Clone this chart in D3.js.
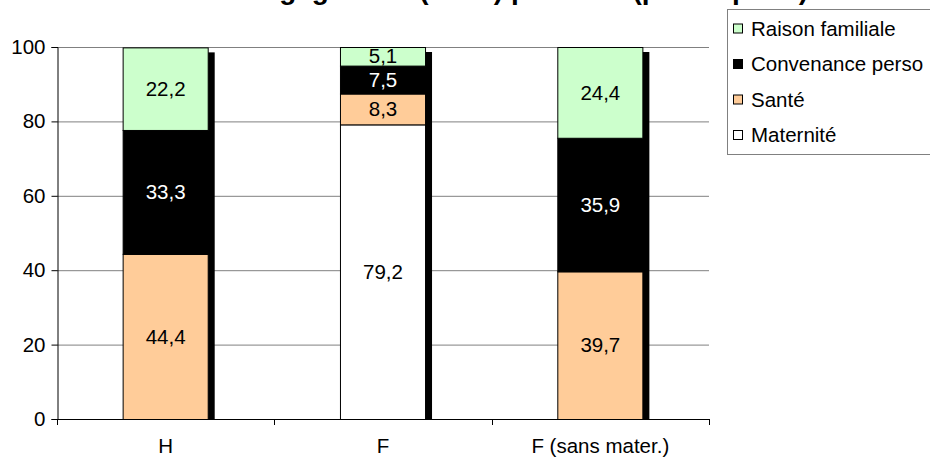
<!DOCTYPE html>
<html>
<head>
<meta charset="utf-8">
<script src="https://cdn.jsdelivr.net/npm/d3@7"></script>
<style>
  html, body { margin: 0; padding: 0; background: #fff; }
  svg { display: block; font-family: "Liberation Sans", Arial, sans-serif; }
</style>
</head>
<body>
<svg id="chart" width="930" height="457"></svg>
<script>
// Categories along the x axis
const categories = ["H", "F", "F (sans mater.)"];

// Stacked series, bottom to top
const seriesNames = ["Maternité", "Santé", "Convenance perso", "Raison familiale"];
const maternite = [0, 79.2, 0];
const sante = [44.4, 8.3, 39.7];
const convenance = [33.3, 7.5, 35.9];
const raisonFamiliale = [22.2, 5.1, 24.4];

const yTicks = [0, 20, 40, 60, 80, 100];
const titleText = "Motifs de dégagement (en %) par sexe (public/privé)";

const colors = {
  "Maternité": "#ffffff",
  "Santé": "#ffcc99",
  "Convenance perso": "#000000",
  "Raison familiale": "#ccffcc"
};

const rows = categories.map((c, i) => ({
  cat: c,
  "Maternité": maternite[i],
  "Santé": sante[i],
  "Convenance perso": convenance[i],
  "Raison familiale": raisonFamiliale[i]
}));

const fontSize = 20.5;
const svg = d3.select("#chart");
const plotLeft = 57, plotRight = 709, plotTop = 47, plotBottom = 419;

const x = d3.scaleBand().domain(categories).range([plotLeft, plotRight])
  .paddingInner(0.604).paddingOuter(0.302);
const y = d3.scaleLinear().domain([0, 100]).range([plotBottom, plotTop]);

// Title, sitting above the top edge of the page
svg.append("text")
  .attr("x", 462).attr("y", -1.5)
  .attr("text-anchor", "middle")
  .attr("font-size", 28).attr("font-weight", "bold")
  .text(titleText);

// Horizontal gridlines
svg.append("g").selectAll("line")
  .data(yTicks.filter(t => t > 0))
  .join("line")
  .attr("x1", plotLeft).attr("x2", plotRight)
  .attr("y1", d => y(d) + 0.5).attr("y2", d => y(d) + 0.5)
  .attr("stroke", "#808080").attr("stroke-width", 1);

const stack = d3.stack().keys(seriesNames)(rows);

// Drop shadow behind each full bar
const totals = rows.map(r => seriesNames.reduce((s, k) => s + r[k], 0));
svg.append("g").selectAll("rect")
  .data(rows)
  .join("rect")
  .attr("x", d => x(d.cat) + 6)
  .attr("y", (d, i) => y(Math.min(totals[i], 100)) + 5)
  .attr("width", x.bandwidth())
  .attr("height", (d, i) => plotBottom - y(Math.min(totals[i], 100)) - 5)
  .attr("fill", "#000");

// Stacked segments
const segG = svg.append("g");
stack.forEach(layer => {
  segG.selectAll(null)
    .data(layer.filter(d => d[1] - d[0] > 0))
    .join("rect")
    .attr("x", d => x(d.data.cat) + 0.5)
    .attr("y", d => y(Math.min(d[1], 100)) + 0.5)
    .attr("width", x.bandwidth() - 1)
    .attr("height", d => y(d[0]) - y(Math.min(d[1], 100)))
    .attr("fill", colors[layer.key])
    .attr("stroke", "#000").attr("stroke-width", 1);
});

// Value labels
stack.forEach(layer => {
  segG.selectAll(null)
    .data(layer.filter(d => d[1] - d[0] > 0))
    .join("text")
    .attr("x", d => x(d.data.cat) + x.bandwidth() / 2)
    .attr("y", d => y((d[0] + Math.min(d[1], 100)) / 2))
    .attr("dy", "0.35em")
    .attr("text-anchor", "middle")
    .attr("font-size", fontSize)
    .attr("fill", layer.key === "Convenance perso" ? "#fff" : "#000")
    .text(d => d3.format(".1f")(d[1] - d[0]).replace(".", ","));
});

// Y axis
const yAxis = svg.append("g")
  .attr("transform", `translate(${plotLeft + 0.5},0)`)
  .call(d3.axisLeft(y).tickValues(yTicks).tickSize(6).tickPadding(6).tickFormat(d3.format("d")));
yAxis.select(".domain").attr("stroke", "#000");
yAxis.selectAll("line").attr("stroke", "#000");
yAxis.selectAll("text").attr("font-size", fontSize).attr("fill", "#000")
  .attr("font-family", "Liberation Sans, Arial, sans-serif");

// X axis with ticks at category boundaries
const xAxisG = svg.append("g");
xAxisG.append("line")
  .attr("x1", plotLeft).attr("x2", plotRight + 0.5)
  .attr("y1", plotBottom + 0.5).attr("y2", plotBottom + 0.5)
  .attr("stroke", "#000");
const boundaries = [0, 1, 2, 3].map(i => plotLeft + i * x.step());
xAxisG.selectAll(null)
  .data(boundaries)
  .join("line")
  .attr("x1", d => Math.round(d) + 0.5).attr("x2", d => Math.round(d) + 0.5)
  .attr("y1", plotBottom).attr("y2", plotBottom + 6)
  .attr("stroke", "#000");
xAxisG.selectAll(null)
  .data(categories)
  .join("text")
  .attr("x", d => x(d) + x.bandwidth() / 2)
  .attr("y", 453)
  .attr("text-anchor", "middle")
  .attr("font-size", fontSize)
  .text(d => d);

// Legend
const legend = svg.append("g");
legend.append("rect")
  .attr("x", 727.5).attr("y", 9.5)
  .attr("width", 220).attr("height", 145)
  .attr("fill", "#fff").attr("stroke", "#808080");
const legendOrder = ["Raison familiale", "Convenance perso", "Santé", "Maternité"];
legendOrder.forEach((k, i) => {
  const cy = 28.5 + i * 35.5;
  legend.append("rect")
    .attr("x", 733.5).attr("y", cy - 4.5)
    .attr("width", 9).attr("height", 9)
    .attr("fill", colors[k]).attr("stroke", "#000");
  legend.append("text")
    .attr("x", 751).attr("y", cy)
    .attr("dy", "0.35em")
    .attr("font-size", fontSize)
    .text(k);
});
</script>
</body>
</html>
